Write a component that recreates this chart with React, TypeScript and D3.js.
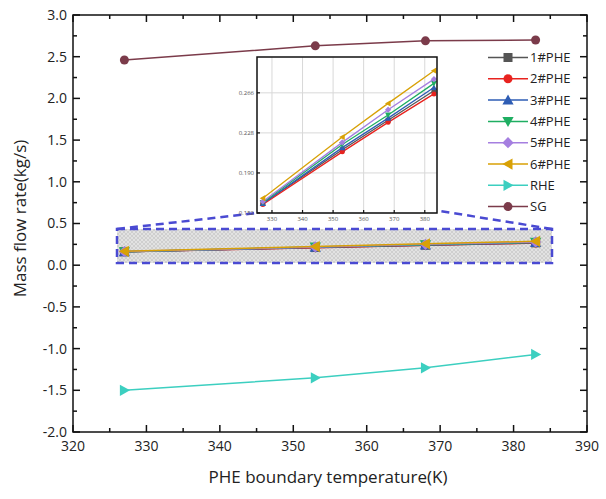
import React from "react";
import * as d3 from "d3";

const temps = [327, 353, 368, 383];
const seriesNames = ["1#PHE", "2#PHE", "3#PHE", "4#PHE", "5#PHE", "6#PHE", "RHE", "SG"];
const phe1 = [0.161, 0.212, 0.240, 0.268];
const phe2 = [0.160, 0.210, 0.238, 0.265];
const phe3 = [0.161, 0.214, 0.242, 0.271];
const phe4 = [0.162, 0.217, 0.245, 0.275];
const phe5 = [0.163, 0.219, 0.250, 0.279];
const phe6 = [0.166, 0.224, 0.256, 0.287];
const rhe = [-1.50, -1.35, -1.23, -1.07];
const sg = [2.46, 2.63, 2.69, 2.70];
const yTicks = [-2.0, -1.5, -1.0, -0.5, 0.0, 0.5, 1.0, 1.5, 2.0, 2.5, 3.0];
const xTicks = [320, 330, 340, 350, 360, 370, 380, 390];
const insetYTicks = [0.152, 0.190, 0.228, 0.266];
const insetXTicks = [330, 340, 350, 360, 370, 380];

const colors = ["#555555", "#e8231f", "#2e5db4", "#1fae62", "#a57fe0", "#d8a106", "#3ccfc0", "#7b3b4a"];
const shapes = ["square", "circle", "tri", "tridown", "diamond", "trileft", "triright", "circle"];
const allData = [phe1, phe2, phe3, phe4, phe5, phe6, rhe, sg];

function Marker({ shape, x, y, r, color }: { shape: string; x: number; y: number; r: number; color: string }) {
  if (shape === "circle") return <circle cx={x} cy={y} r={r} fill={color} />;
  if (shape === "square") return <rect x={x - r} y={y - r} width={2 * r} height={2 * r} fill={color} />;
  const s = r * 1.25;
  let pts: number[][] = [];
  if (shape === "tri") pts = [[0, -s], [s, s * 0.8], [-s, s * 0.8]];
  if (shape === "tridown") pts = [[0, s], [s, -s * 0.8], [-s, -s * 0.8]];
  if (shape === "trileft") pts = [[-s, 0], [s * 0.8, -s], [s * 0.8, s]];
  if (shape === "triright") pts = [[s, 0], [-s * 0.8, -s], [-s * 0.8, s]];
  if (shape === "diamond") pts = [[0, -s], [s, 0], [0, s], [-s, 0]];
  return <polygon points={pts.map((p) => `${x + p[0]},${y + p[1]}`).join(" ")} fill={color} />;
}

export default function App() {
  const W = 606, H = 499;
  const L = 73, R = 587, T = 15, B = 432;
  const x = d3.scaleLinear().domain([320, 390]).range([L, R]);
  const y = d3.scaleLinear().domain([-2, 3]).range([B, T]);

  const iL = 257, iR = 437, iT = 57, iB = 213;
  const ix = d3.scaleLinear().domain([325.1, 384]).range([iL, iR]);
  const iy = d3.scaleLinear().domain([0.152, 0.30]).range([iB, iT]);

  const line = d3.line<number>().x((_, i) => x(temps[i])).y((d) => y(d));
  const iline = d3.line<number>().x((_, i) => ix(temps[i])).y((d) => iy(d));

  const font = "'Open Sans', 'DejaVu Sans', sans-serif";
  const minorY = d3.range(-2, 3.01, 0.25);
  const minorX = d3.range(320, 390.1, 5);

  // zoom rectangle
  const rx1 = 117, rx2 = 552, ry1 = 229, ry2 = 263;
  const dash = "8,5";
  const blue = "#4a4ad2";

  return (
    <svg width={W} height={H} style={{ position: "absolute", left: 0, top: 0, background: "#fff" }}>
      <defs>
        <pattern id="hatch" width="4" height="4" patternUnits="userSpaceOnUse">
          <rect width="4" height="4" fill="#e2e2e2" />
          <path d="M0,4 L4,0 M0,0 L4,4" stroke="#c2c2c2" strokeWidth="0.6" />
        </pattern>
        <clipPath id="insetClip">
          <rect x={iL} y={iT} width={iR - iL} height={iB - iT} />
        </clipPath>
      </defs>

      {/* zoom rectangle */}
      <rect x={rx1} y={ry1} width={rx2 - rx1} height={ry2 - ry1} fill="url(#hatch)" stroke={blue} strokeWidth={2.5} strokeDasharray={dash} />
      <line x1={rx1} y1={ry1} x2={iL} y2={iB} stroke={blue} strokeWidth={2.5} strokeDasharray={dash} />
      <line x1={rx2} y1={ry1} x2={iR + 3} y2={iB - 2} stroke={blue} strokeWidth={2.5} strokeDasharray={dash} />

      {/* series in main */}
      {allData.map((d, si) => (
        <g key={si}>
          <path d={line(d) || ""} fill="none" stroke={colors[si]} strokeWidth={1.5} />
          {d.map((v, i) => (
            <Marker key={i} shape={shapes[si]} x={x(temps[i])} y={y(v)} r={4.5} color={colors[si]} />
          ))}
        </g>
      ))}

      {/* axes frame */}
      <rect x={L} y={T} width={R - L} height={B - T} fill="none" stroke="#111" strokeWidth={1.5} />
      {minorY.map((t, i) => {
        const major = Math.abs(t * 2 - Math.round(t * 2)) < 1e-6;
        const len = major ? 7 : 4;
        return (
          <g key={"yt" + i}>
            <line x1={L} x2={L + len} y1={y(t)} y2={y(t)} stroke="#111" strokeWidth={1.5} />
            <line x1={R} x2={R - len} y1={y(t)} y2={y(t)} stroke="#111" strokeWidth={1.5} />
          </g>
        );
      })}
      {minorX.map((t, i) => {
        const major = Math.round(t) % 10 === 0;
        const len = major ? 7 : 4;
        return (
          <g key={"xt" + i}>
            <line x1={x(t)} x2={x(t)} y1={B} y2={B - len} stroke="#111" strokeWidth={1.5} />
            <line x1={x(t)} x2={x(t)} y1={T} y2={T + len} stroke="#111" strokeWidth={1.5} />
          </g>
        );
      })}
      {yTicks.map((t) => (
        <text key={"yl" + t} x={L - 6} y={y(t)} dy="0.35em" textAnchor="end" fontFamily={font} fontSize={14} fill="#222">
          {t.toFixed(1)}
        </text>
      ))}
      {xTicks.map((t) => (
        <text key={"xl" + t} x={x(t)} y={B + 19} textAnchor="middle" fontFamily={font} fontSize={14} fill="#222">
          {t}
        </text>
      ))}
      <text x={328} y={483} textAnchor="middle" fontFamily={font} fontSize={17} fill="#222">
        PHE boundary temperature(K)
      </text>
      <text transform={`translate(26,${(T + B) / 2 - 5}) rotate(-90)`} textAnchor="middle" fontFamily={font} fontSize={17} fill="#222">
        Mass flow rate(kg/s)
      </text>

      {/* inset */}
      <rect x={iL} y={iT} width={iR - iL} height={iB - iT} fill="#fff" />
      {insetXTicks.map((t) => (
        <line key={"igx" + t} x1={ix(t)} x2={ix(t)} y1={iT} y2={iB} stroke="#d8d8d8" strokeWidth={1} />
      ))}
      {insetYTicks.map((t) => (
        <line key={"igy" + t} x1={iL} x2={iR} y1={iy(t)} y2={iy(t)} stroke="#d8d8d8" strokeWidth={1} />
      ))}
      <g clipPath="url(#insetClip)">
        {allData.slice(0, 6).map((d, si) => (
          <g key={"in" + si}>
            <path d={iline(d) || ""} fill="none" stroke={colors[si]} strokeWidth={1.3} />
            {d.map((v, i) => (
              <Marker key={i} shape={shapes[si]} x={ix(temps[i])} y={iy(v)} r={2.5} color={colors[si]} />
            ))}
          </g>
        ))}
      </g>
      <rect x={iL} y={iT} width={iR - iL} height={iB - iT} fill="none" stroke="#111" strokeWidth={1.5} />
      {insetYTicks.map((t) => (
        <g key={"iyt" + t}>
          <line x1={iL} x2={iL + 3} y1={iy(t)} y2={iy(t)} stroke="#111" strokeWidth={1.2} />
          <text x={iL - 3} y={iy(t)} dy="0.35em" textAnchor="end" fontFamily={font} fontSize={6} fill="#555">
            {t.toFixed(3)}
          </text>
        </g>
      ))}
      {insetXTicks.map((t) => (
        <g key={"ixt" + t}>
          <line x1={ix(t)} x2={ix(t)} y1={iB} y2={iB - 3} stroke="#111" strokeWidth={1.2} />
          <text x={ix(t)} y={iB + 8} textAnchor="middle" fontFamily={font} fontSize={6} fill="#555">
            {t}
          </text>
        </g>
      ))}

      {/* legend */}
      {seriesNames.map((n, i) => {
        const ly = 57.5 + i * 21.3;
        return (
          <g key={"lg" + i}>
            <line x1={488} x2={528} y1={ly} y2={ly} stroke={colors[i]} strokeWidth={1.5} />
            <Marker shape={shapes[i]} x={508} y={ly} r={4.5} color={colors[i]} />
            <text x={530} y={ly} dy="0.36em" fontFamily={font} fontSize={13} fill="#222">
              {n}
            </text>
          </g>
        );
      })}
    </svg>
  );
}
